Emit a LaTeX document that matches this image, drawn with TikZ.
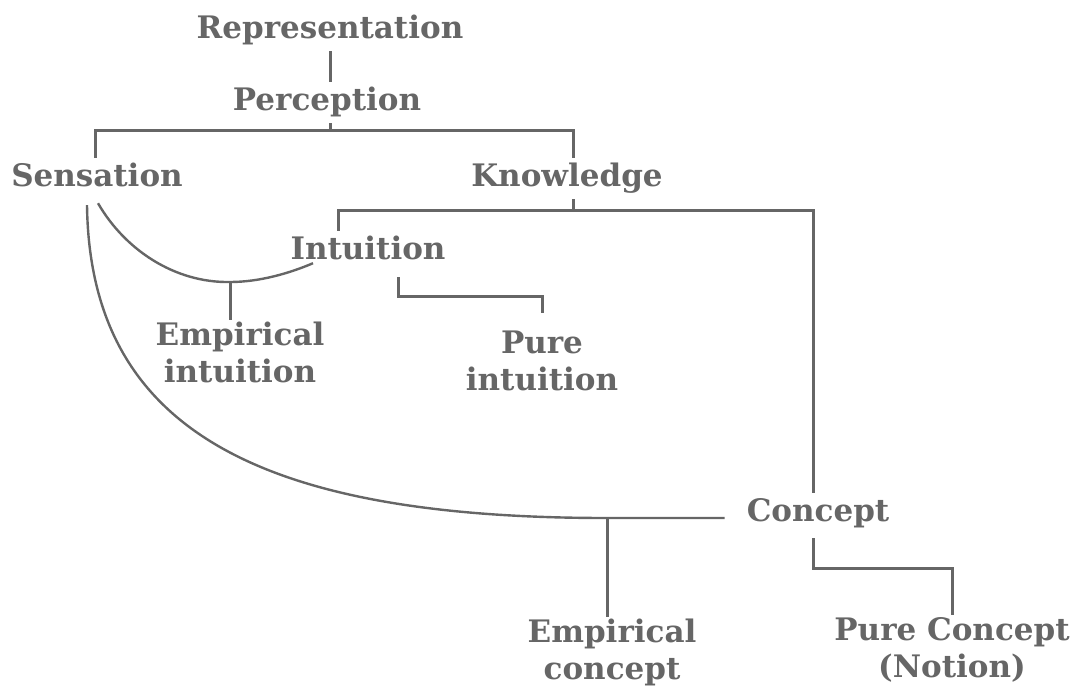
\documentclass[tikz,border=0pt]{standalone}
\usepackage{fontspec}
\setmainfont{DejaVu Serif}
\usepackage{tikz}

\begin{document}
\begin{tikzpicture}[x=1pt, y=-1pt]
\tikzstyle{mylabel} = [text = black!60, font = \bfseries\fontsize{31}{37}\selectfont, inner xsep = 2pt, inner ysep = 6pt, anchor = base, text height = 22pt, text depth = 7pt]
\tikzstyle{mytwoline} = [text = black!60, font = \bfseries\fontsize{31}{37}\selectfont, align = center, inner sep = 2pt, anchor = north]
\tikzset{myline/.style = {draw = black!60, line width = 3pt}, mycurve/.style = {draw = black!60, line width = 2.4pt}}
\useasboundingbox (0,0) rectangle (1076,691);

\node [mylabel] (rep) at (330,38) {Representation};
\node [mylabel] (perc) at (327,110) {Perception};
\node [mylabel] (sens) at (97,186) {Sensation};
\node [mylabel] (know) at (567,186) {Knowledge};
\node [mylabel] (intu) at (368,259) {Intuition};
\node [mylabel] (conc) at (818,521) {Concept};
\node [mytwoline] (empint) at (240,320) {Empirical\\intuition};
\node [mytwoline] (pureint) at (542,329) {Pure\\intuition};
\node [mytwoline] (empcon) at (612,617) {Empirical\\concept};
\node [mytwoline] (purecon) at (952,615) {Pure Concept\\(Notion)};

\coordinate (pbar) at (330,130);
\coordinate (kbar) at (573,210);
\coordinate (ei) at (230,282);
\coordinate (ec) at (607,518);

\draw [myline] (rep.south -| pbar) -- (perc.north -| pbar);
\draw [myline] (perc.south -| pbar) -- (pbar);
\draw [myline] ([xshift=-2]sens.north) |- (pbar) -| ([xshift=6]know.north);
\draw [myline] (know.south -| kbar) -- (kbar);
\draw [myline] ([xshift=-30]intu.north) |- (kbar) -| ([xshift=-5]conc.north);
\draw [myline] ([xshift=30,yshift=-5]intu.south) -- ++(0,19) -| ([yshift=16]pureint.north);
\draw [myline] ([xshift=-5,yshift=-4]conc.south) -- ++(0,30) -| (purecon.north);
\draw [mycurve] ([xshift=1,yshift=-4]sens.south) .. controls (125,250) and (175,283) .. (ei) .. controls (260,282) and (290,273) .. ([xshift=-55,yshift=9]intu.south);
\draw [myline] (ei) -- (ei |- empint.north);
\draw [mycurve] ([xshift=-10,yshift=-6]sens.south) .. controls (90,430) and (260,518) .. (ec) -- ([xshift=-20]conc.west |- ec);
\draw [myline] (ec) -- (ec |- empcon.north);
\end{tikzpicture}
\end{document}
